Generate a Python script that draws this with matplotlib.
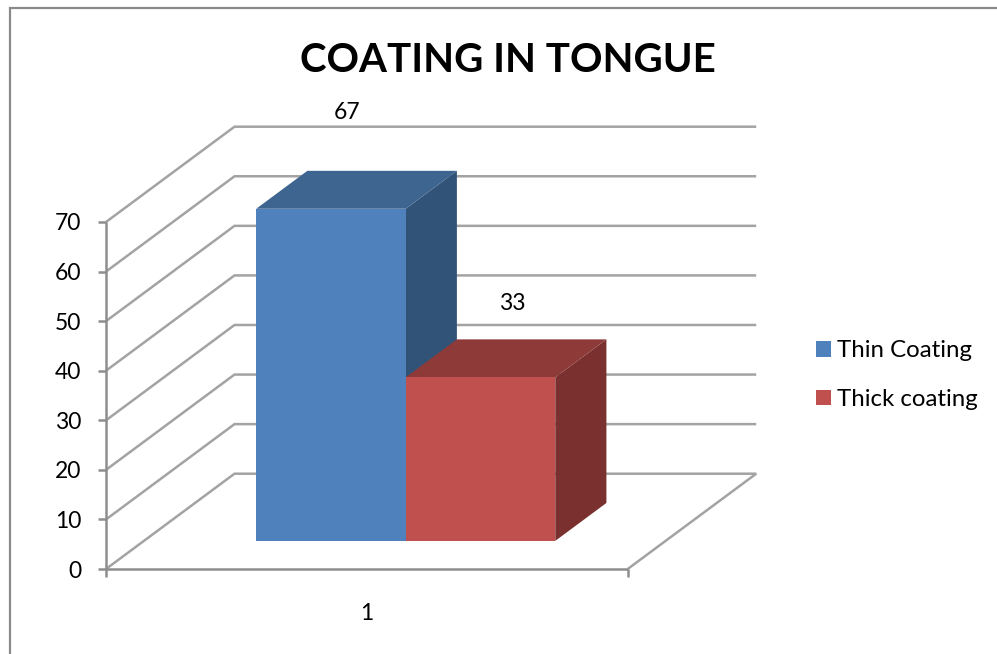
import matplotlib
matplotlib.use("Agg")
import matplotlib.pyplot as plt
from matplotlib.lines import Line2D
from matplotlib.patches import Polygon, Patch

# Chart content
title = "COATING IN TONGUE"
series_names = ["Thin Coating", "Thick coating"]
series_values = [67, 33]
value_ticks = [0, 10, 20, 30, 40, 50, 60, 70]
category_labels = ["1"]

# Colours: front, top and side of each column
front_colors = ["#4F81BD", "#C0504D"]
top_colors = ["#3E6490", "#8E3A38"]
side_colors = ["#325378", "#7A302E"]
grid_color = "#A3A3A3"
axis_color = "#8E8E8E"
frame_color = "#8A8A8A"

W, H = 997, 654
plt.rcParams["font.family"] = ["Lato", "DejaVu Sans"]
fig = plt.figure(figsize=(W / 100, H / 100), dpi=100, facecolor="white")

# The axes box is the front plane of the oblique box
LEFT, RIGHT, BOTTOM, TOP = 106.0, 627.7, 569.0, 222.0
ax = fig.add_axes([LEFT / W, 1 - BOTTOM / H, (RIGHT - LEFT) / W, (BOTTOM - TOP) / H])
ax.set_xlim(0, 1)
ax.set_ylim(0, 70)
ax.patch.set_visible(False)
for spine in ax.spines.values():
    spine.set_visible(False)

# Oblique depth: one full depth unit, expressed in data units
DEPTH_X = 128.5 / (RIGHT - LEFT)
DEPTH_Y = 95.3 / ((BOTTOM - TOP) / 70)


def project(x, value, depth):
    return x + depth * DEPTH_X, value + depth * DEPTH_Y


def path(*points):
    return [project(*p) for p in points]


def draw_line(points, color=grid_color, lw=1.8, z=1):
    xs, ys = zip(*path(*points))
    ax.add_line(Line2D(xs, ys, color=color, lw=lw, zorder=z, clip_on=False,
                       solid_joinstyle="miter", solid_capstyle="butt"))


# Walls and floor
for v in value_ticks[1:]:
    draw_line([(0, v, 0), (0, v, 1), (1, v, 1)])
draw_line([(0, 0, 0), (0, 0, 1), (1, 0, 1), (1, 0, 0)])
draw_line([(0, 0, 0), (1, 0, 0)], color=axis_color, z=2)
draw_line([(0, 0, 0), (0, 70, 0)], color=axis_color, z=2)

# Columns
BAR_START = 0.2153
BAR_WIDTH = 0.2866
DEPTH_FRONT = 0.295
DEPTH_BACK = 0.693
label_offsets = [(-25, 42), (-14, 26)]

for i, value in enumerate(series_values):
    x0 = BAR_START + i * BAR_WIDTH
    x1 = x0 + BAR_WIDTH
    d0, d1 = DEPTH_FRONT, DEPTH_BACK
    side = path((x1, 0, d0), (x1, 0, d1), (x1, value, d1), (x1, value, d0))
    top = path((x0, value, d0), (x1, value, d0), (x1, value, d1), (x0, value, d1))
    front = path((x0, 0, d0), (x1, 0, d0), (x1, value, d0), (x0, value, d0))
    z = 3 + i
    ax.add_patch(Polygon(side, closed=True, fc=side_colors[i], ec="none", zorder=z, clip_on=False))
    ax.add_patch(Polygon(top, closed=True, fc=top_colors[i], ec="none", zorder=z, clip_on=False))
    ax.add_patch(Polygon(front, closed=True, fc=front_colors[i], ec="none", zorder=z, clip_on=False))
    ax.annotate(str(value), xy=project((x0 + x1) / 2, value, d1),
                xytext=label_offsets[i], textcoords="offset points",
                ha="center", va="center", fontsize=16.5, color="black",
                annotation_clip=False, zorder=6)

# Value axis and category axis
ax.set_yticks(value_ticks)
ax.tick_params(axis="y", length=6, width=1.8, color=axis_color, pad=12,
               labelsize=16.5, labelcolor="black")
ax.set_xticks([0, 1])
ax.set_xticklabels([])
ax.tick_params(axis="x", which="major", length=6, width=1.8, color=axis_color)
ax.set_xticks([0.5], minor=True)
ax.set_xticklabels(category_labels, minor=True)
ax.tick_params(axis="x", which="minor", length=0, pad=24.5, labelsize=16.5, labelcolor="black")

# Title
fig.text(508 / W, 1 - 61 / H, title, ha="center", va="center",
         fontsize=29, fontweight="bold", color="black")

# Legend
handles = [Patch(fc=c, ec="none") for c in front_colors]
fig.legend(handles, series_names, loc="center left",
           bbox_to_anchor=(808 / W, 1 - 375 / H), frameon=False, fontsize=17.3,
           handlelength=0.625, handleheight=0.625, handletextpad=0.25,
           labelspacing=1.15, borderpad=0.35, borderaxespad=0)

# Outer chart frame, running off the top right and bottom left
fig.add_artist(Line2D([9.5 / W, 9.5 / W, 1], [0, 1 - 8 / H, 1 - 8 / H],
                      transform=fig.transFigure, color=frame_color, lw=1.6,
                      solid_joinstyle="miter"))

fig.savefig("out.png", dpi=100, facecolor="white")
